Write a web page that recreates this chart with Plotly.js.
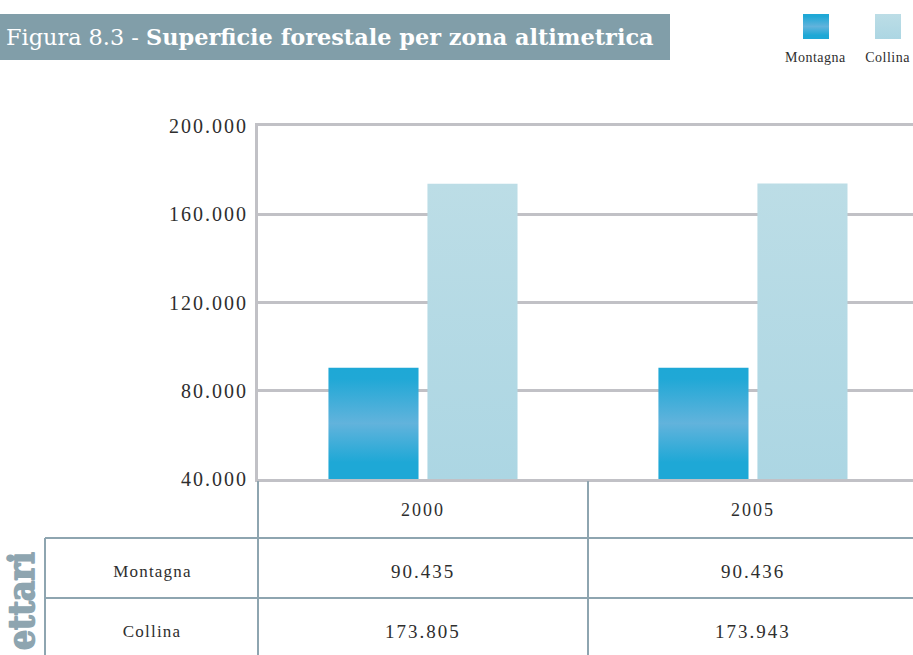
<!DOCTYPE html>
<html>
<head>
<meta charset="utf-8">
<script src="https://cdn.plot.ly/plotly-3.0.1.min.js"></script>
<style>
html,body{margin:0;padding:0;background:#fff;}
#chart{width:913px;height:655px;}
#chart .ytick text{letter-spacing:2px;}
#chart .xtick text{letter-spacing:2px;}
</style>
</head>
<body>
<div id="chart"></div>
<script>
// ---- data ----
const categories = ['2000', '2005'];
const seriesNames = ['Montagna', 'Collina'];
const montagna = [90435, 90436];
const collina = [173805, 173943];
const yTickVals = [40000, 80000, 120000, 160000, 200000];
const yTickText = ['40.000', '80.000', '120.000', '160.000', '200.000'];
const yRange = [40000, 200000];
const xRange = [-0.5, 1.485];
const titleRegular = 'Figura 8.3 - ';
const titleBold = 'Superficie forestale per zona altimetrica';
const unitLabel = 'ettari';

// ---- helpers (layout pixel -> paper) ----
const W = 913, H = 655, L = 258, T = 126, B = 479;
const px = x => (x - L) / (W - L);
const py = y => (B - y) / (B - T);
const catToPaper = c => (c - xRange[0]) / (xRange[1] - xRange[0]);
const fmt = v => String(v).replace(/\B(?=(\d{3})+(?!\d))/g, '.');

const gray = '#c1c1c6';
const tableCol = '#8ea5b0';
const textCol = '#2e2e2e';
const serif = 'Liberation Serif, serif';

const traces = [
  {type: 'bar', name: seriesNames[0], x: categories, y: montagna,
   marker: {color: '#3aaedb', line: {width: 0}}, hoverinfo: 'none', showlegend: false},
  {type: 'bar', name: seriesNames[1], x: categories, y: collina,
   marker: {color: '#b4dae5', line: {width: 0}}, hoverinfo: 'none', showlegend: false}
];

const shapes = [];
// title bar
shapes.push({type: 'rect', xref: 'paper', yref: 'paper', x0: px(0), x1: px(670), y0: py(60), y1: py(14),
  fillcolor: '#819ea9', line: {width: 0}});
// legend squares
shapes.push({type: 'rect', xref: 'paper', yref: 'paper', x0: px(803), x1: px(829), y0: py(39), y1: py(14),
  fillcolor: '#3aaedb', line: {width: 0}});
shapes.push({type: 'rect', xref: 'paper', yref: 'paper', x0: px(875), x1: px(901), y0: py(39), y1: py(14),
  fillcolor: '#b4dae5', line: {width: 0}});
// table lines
const tl = {color: tableCol, width: 2};
shapes.push({type: 'line', xref: 'paper', yref: 'paper', x0: px(45), x1: px(913), y0: py(538), y1: py(538), line: tl});
shapes.push({type: 'line', xref: 'paper', yref: 'paper', x0: px(45), x1: px(913), y0: py(598), y1: py(598), line: tl});
shapes.push({type: 'line', xref: 'paper', yref: 'paper', x0: px(45), x1: px(45), y0: py(538), y1: py(660), line: tl});
shapes.push({type: 'line', xref: 'paper', yref: 'paper', x0: 0, x1: 0, y0: py(481), y1: py(660), line: tl});
shapes.push({type: 'line', xref: 'paper', yref: 'paper', x0: catToPaper(0.5), x1: catToPaper(0.5), y0: py(481), y1: py(660), line: tl});

const annotations = [];
annotations.push({xref: 'paper', yref: 'paper', x: px(4), y: py(37), xanchor: 'left', yanchor: 'middle',
  text: titleRegular + '<b>' + titleBold + '</b>', showarrow: false,
  font: {family: 'DejaVu Serif, serif', size: 22.4, color: '#ffffff'}});
annotations.push({xref: 'paper', yref: 'paper', x: px(816), y: py(57), xanchor: 'center', yanchor: 'middle',
  text: seriesNames[0], showarrow: false, font: {family: serif, size: 14, color: textCol}, _sp: 0.5});
annotations.push({xref: 'paper', yref: 'paper', x: px(888), y: py(57), xanchor: 'center', yanchor: 'middle',
  text: seriesNames[1], showarrow: false, font: {family: serif, size: 14, color: textCol}, _sp: 0.5});
// table row labels
const rowY = [571, 631];
const rows = [montagna, collina];
rows.forEach((vals, r) => {
  annotations.push({xref: 'paper', yref: 'paper', x: px(152), y: py(rowY[r]), xanchor: 'center', yanchor: 'middle',
    text: seriesNames[r], showarrow: false, font: {family: serif, size: 17, color: textCol}, _sp: 1.2});
  vals.forEach((v, i) => {
    annotations.push({xref: 'paper', yref: 'paper', x: catToPaper(i), y: py(rowY[r]), xanchor: 'center', yanchor: 'middle',
      text: fmt(v), showarrow: false, font: {family: serif, size: 19, color: textCol}, _sp: 2});
  });
});
// unit label
annotations.push({xref: 'paper', yref: 'paper', x: px(21), y: py(601), xanchor: 'center', yanchor: 'middle',
  text: '<b>' + unitLabel + '</b>', textangle: -90, showarrow: false,
  font: {family: 'DejaVu Serif Condensed, DejaVu Serif, serif', size: 35, color: tableCol}, _stroke: true});

const spacing = annotations.map(a => a._sp || 0);
const stroked = annotations.map(a => !!a._stroke);
annotations.forEach(a => { delete a._sp; delete a._stroke; });

const layout = {
  width: W, height: H,
  margin: {l: L, r: 0, t: T, b: H - B, pad: 0},
  paper_bgcolor: '#ffffff', plot_bgcolor: '#ffffff',
  font: {family: serif, color: textCol},
  barmode: 'group', bargap: 0.4, bargroupgap: 0.09,
  showlegend: false,
  xaxis: {type: 'category', range: xRange, showgrid: false, zeroline: false,
    showline: true, mirror: true, linecolor: gray, linewidth: 3, ticks: '', ticklabelstandoff: 12,
    tickfont: {family: serif, size: 18, color: textCol}, fixedrange: true},
  yaxis: {range: yRange, tickvals: yTickVals, ticktext: yTickText, showgrid: true,
    gridcolor: gray, gridwidth: 3, zeroline: false, showline: true, linecolor: gray, linewidth: 3,
    ticks: '', ticklabelstandoff: 3, tickfont: {family: serif, size: 20, color: textCol}, fixedrange: true},
  shapes: shapes,
  annotations: annotations
};

const gd = document.getElementById('chart');
Plotly.newPlot(gd, traces, layout, {staticPlot: true, displayModeBar: false}).then(applyStyling);

const NS = 'http://www.w3.org/2000/svg';
function makeGrad(defs, id, stops, y1, y2) {
  const g = document.createElementNS(NS, 'linearGradient');
  g.setAttribute('id', id);
  if (y1 !== undefined) {
    g.setAttribute('gradientUnits', 'userSpaceOnUse');
    g.setAttribute('x1', '0'); g.setAttribute('x2', '0');
    g.setAttribute('y1', y1); g.setAttribute('y2', y2);
  } else {
    g.setAttribute('x1', '0'); g.setAttribute('y1', '0');
    g.setAttribute('x2', '0'); g.setAttribute('y2', '1');
  }
  stops.forEach(s => {
    const st = document.createElementNS(NS, 'stop');
    st.setAttribute('offset', s[0]);
    st.setAttribute('stop-color', s[1]);
    g.appendChild(st);
  });
  defs.appendChild(g);
}

const montStops = [['0', '#1ea8d6'], ['0.1', '#20a8d6'], ['0.5', '#62b3dc'], ['0.85', '#1ea8d6'], ['1', '#1ea8d6']];
const collStops = [['0', '#bcdde6'], ['1', '#acd6e3']];

function applyStyling() {
  const svg = gd.querySelector('svg.main-svg');
  let defs = svg.querySelector('defs');
  if (!defs) { defs = document.createElementNS(NS, 'defs'); svg.insertBefore(defs, svg.firstChild); }
  const ya = gd._fullLayout.yaxis;
  const series = [montagna, collina];
  const stopsArr = [montStops, collStops];
  gd.querySelectorAll('.barlayer .trace').forEach((t, i) => {
    t.querySelectorAll('.point path').forEach((p, j) => {
      const id = 'grad' + i + '_' + j;
      makeGrad(defs, id, stopsArr[i], ya.l2p(series[i][j]), ya.l2p(yRange[0]));
      p.style.fill = 'url(#' + id + ')';
    });
  });
  makeGrad(defs, 'gradLegM', montStops);
  makeGrad(defs, 'gradLegC', collStops);
  const s1 = gd.querySelector('.shapelayer path[data-index="1"]');
  const s2 = gd.querySelector('.shapelayer path[data-index="2"]');
  if (s1) s1.style.fill = 'url(#gradLegM)';
  if (s2) s2.style.fill = 'url(#gradLegC)';
  spacing.forEach((sp, i) => {
    if (!sp) return;
    const t = gd.querySelector('.annotation[data-index="' + i + '"] text.annotation-text');
    if (t) t.style.letterSpacing = sp + 'px';
  });
  stroked.forEach((st, i) => {
    if (!st) return;
    const t = gd.querySelector('.annotation[data-index="' + i + '"] text.annotation-text');
    if (t) { t.style.stroke = tableCol; t.style.strokeWidth = '1.6px'; t.style.strokeLinejoin = 'round'; }
  });
}
</script>
</body>
</html>
